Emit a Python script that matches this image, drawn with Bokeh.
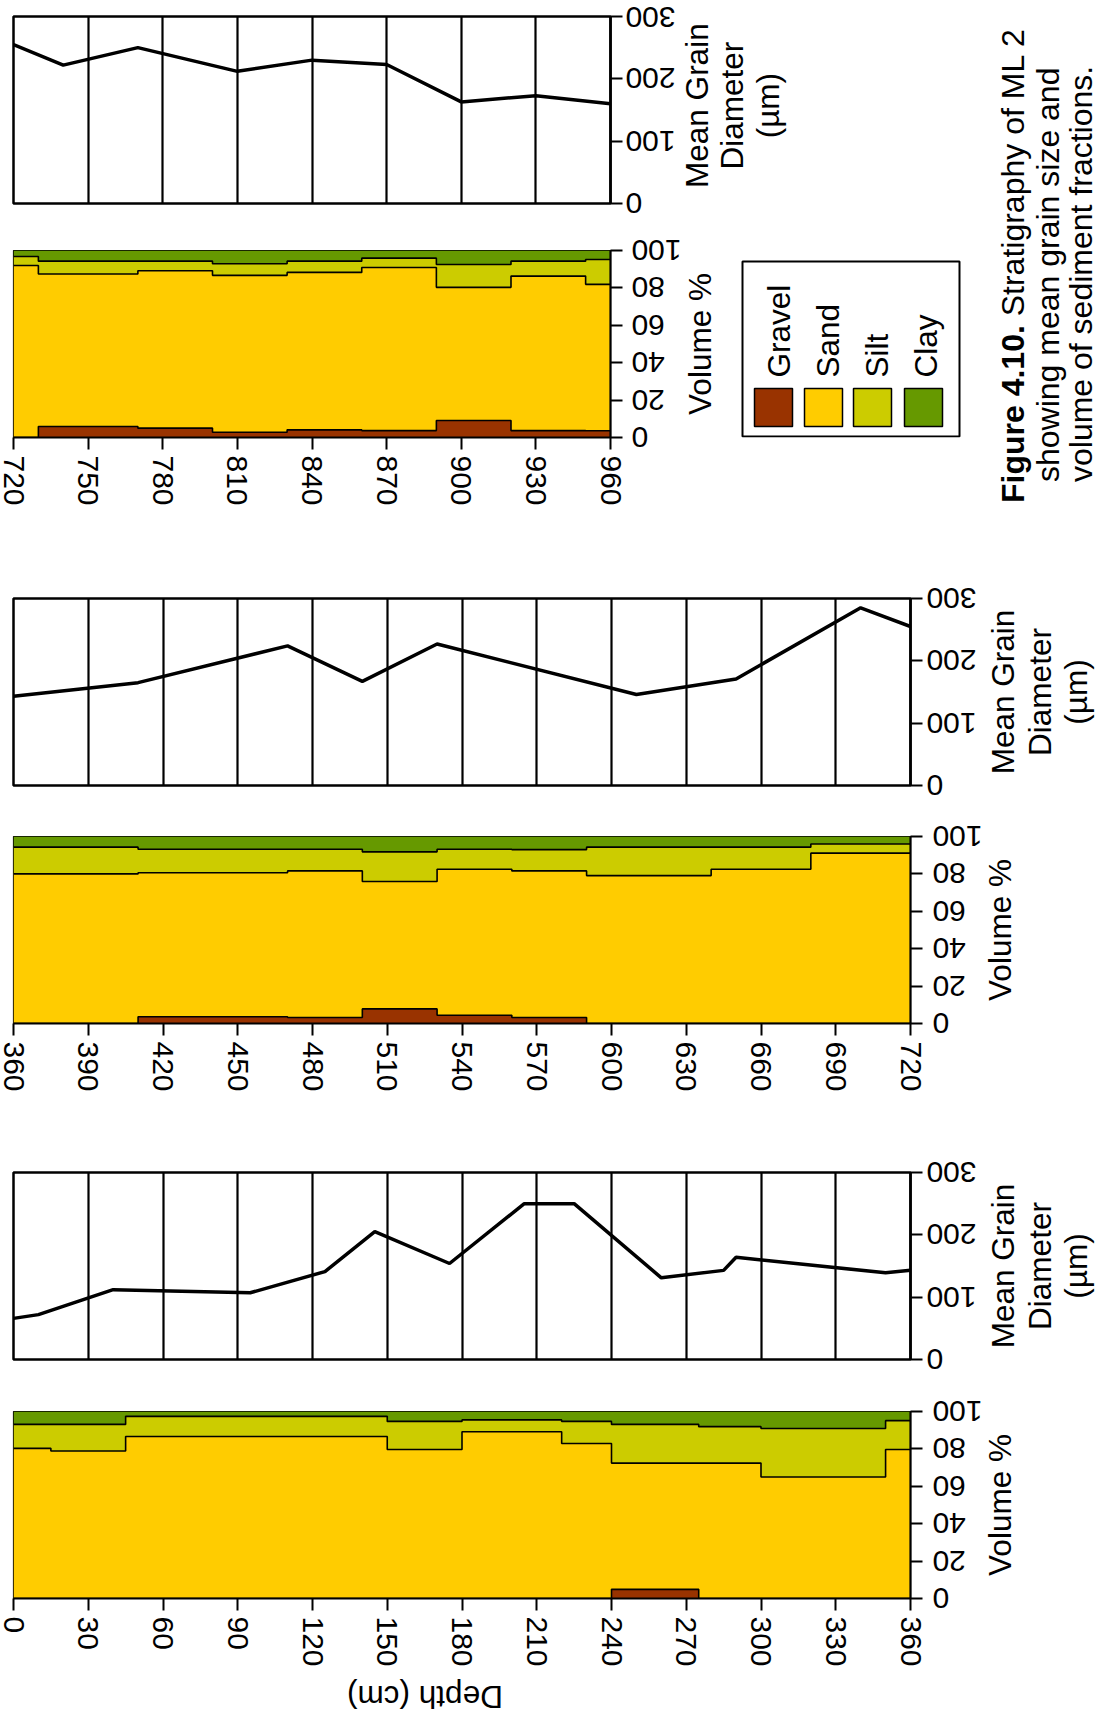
import math
from bokeh.plotting import figure
from bokeh.layouts import column, row
from bokeh.models import Range1d, SingleIntervalTicker, FixedTicker, Grid, Div
from bokeh.core.properties import value
from bokeh.embed import file_html
from bokeh.resources import INLINE

# ---------------- data ----------------
sample_top = [0, 15, 45, 150, 180, 220, 240, 275, 300, 350,
              360, 410, 470, 500, 530, 560, 590, 640, 680,
              720, 730, 770, 800, 830, 860, 890, 920, 950]
sample_base = [15, 45, 150, 180, 220, 240, 275, 300, 350, 360,
               410, 470, 500, 530, 560, 590, 640, 680, 720,
               730, 770, 800, 830, 860, 890, 920, 950, 960]
gravel = [0, 0, 0, 0, 0, 0, 4.9, 0, 0, 0,
          0, 3.6, 3.2, 7.8, 4.4, 3.2, 0, 0, 0,
          0, 5.9, 5.0, 2.8, 4.1, 3.7, 9.1, 3.7, 3.6]
sand = [80.3, 78.9, 86.6, 79.7, 89.2, 82.9, 67.5, 72.4, 65.0, 79.7,
        80.0, 77.0, 78.4, 68.1, 78.1, 78.4, 79.1, 82.5, 91.1,
        92.0, 81.5, 84.2, 83.9, 84.2, 87.2, 71.2, 82.6, 78.3]
silt = [12.8, 14.2, 10.8, 15.0, 6.3, 11.8, 20.7, 19.5, 25.9, 15.4,
        14.3, 12.6, 11.6, 15.9, 10.7, 11.4, 15.2, 11.8, 4.9,
        4.8, 6.9, 5.1, 6.2, 6.0, 5.0, 12.2, 8.0, 13.3]
clay = [6.9, 6.9, 2.6, 5.3, 4.5, 5.3, 6.9, 8.1, 9.1, 4.9,
        5.7, 6.8, 6.8, 8.2, 6.8, 7.0, 5.7, 5.7, 4.0,
        3.2, 5.7, 5.7, 7.1, 5.7, 4.1, 7.5, 5.7, 4.8]

mean_depth = [0, 10, 40, 95, 125, 145, 175, 205, 225, 260, 285, 290, 350, 360,
              410, 470, 500, 530, 610, 650, 700, 720,
              740, 770, 810, 840, 870, 900, 930, 960]
mean_diam = [66, 72, 112, 107, 141, 205, 154, 250, 250, 131, 143, 164, 139, 143,
             165, 224, 167, 227, 146, 171, 285, 255,
             222, 250, 212, 230, 223, 163, 173, 160]

fractions = ["Gravel", "Sand", "Silt", "Clay"]
fraction_colors = ["#993300", "#FFCC00", "#CCCC00", "#669900"]

mean_ticks = [0, 100, 200, 300]
volume_ticks = [0, 20, 40, 60, 80, 100]
mean_title = ["Mean Grain", "Diameter", "(µm)"]
volume_title = "Volume %"
depth_title = "Depth (cm)"
caption_bold = "Figure 4.10."
caption_line1 = "Stratigraphy of ML 2"
caption_lines = ["showing mean grain size and", "volume of sediment fractions."]

# ---------------- styling / layout ----------------
FONT = "Liberation Sans"
TICK_PX = 30
TICK_SIZE = "%dpx" % TICK_PX
TITLE_SIZE = "31.5px"
FRAME_H = 187
LEFT_B = 13
RIGHT_B = 130           # room reserved by the value axis (upside-down labels)
TICK_OUT = 12
TOTAL_W = 1098
LABEL_W = 3 * 0.556 * TICK_PX   # width of a three-digit label


def style_axis(ax):
    ax.major_label_text_font = FONT
    ax.major_label_text_font_size = TICK_SIZE
    ax.major_label_text_color = "black"
    ax.major_tick_out = TICK_OUT
    ax.major_tick_in = 0
    ax.major_tick_line_color = "black"
    ax.major_tick_line_width = 2
    ax.minor_tick_line_color = None
    ax.axis_line_color = "black"
    ax.axis_line_width = 2.2


def value_axis(ax, ticks, gap):
    # upside-down labels whose (visual) left edges sit `gap` px right of the axis
    style_axis(ax)
    ax.ticker = FixedTicker(ticks=ticks)
    ax.major_label_orientation = math.pi
    ax.major_label_overrides = {t: "\u00a0" * (2 * (3 - len(str(t)))) + str(t) for t in ticks}
    ax.major_label_standoff = int(round(gap + LABEL_W - TICK_OUT))


def mean_fig(d0, d1, frame_w, tb, bb, gap):
    p = figure(width=LEFT_B + frame_w + RIGHT_B, height=tb + FRAME_H + bb,
               x_range=Range1d(d0, d1), y_range=Range1d(0, 300),
               output_backend="svg", toolbar_location=None,
               x_axis_location=None, y_axis_location="right",
               min_border_left=LEFT_B, min_border_right=RIGHT_B,
               min_border_top=tb, min_border_bottom=bb)
    p.outline_line_color = "black"
    p.outline_line_width = 2.5
    p.grid.visible = False
    p.add_layout(Grid(dimension=0, ticker=SingleIntervalTicker(interval=30, num_minor_ticks=0),
                      grid_line_color="black", grid_line_width=2.2))
    ax = p.yaxis[0]
    value_axis(ax, mean_ticks, gap)
    ax.axis_line_width = 2.5
    xs = [d for d in mean_depth if d0 <= d <= d1]
    ys = [v for d, v in zip(mean_depth, mean_diam) if d0 <= d <= d1]
    p.line(xs, ys, line_color="black", line_width=3.5)
    return p


def volume_fig(d0, d1, frame_w, tb, bb, gap):
    p = figure(width=LEFT_B + frame_w + RIGHT_B, height=tb + FRAME_H + bb,
               x_range=Range1d(d0, d1), y_range=Range1d(0, 100),
               output_backend="svg", toolbar_location=None,
               x_axis_location="below", y_axis_location="right",
               min_border_left=LEFT_B, min_border_right=RIGHT_B,
               min_border_top=tb, min_border_bottom=bb)
    p.outline_line_color = "black"
    p.outline_line_width = 1.2
    p.grid.visible = False
    idx = [i for i in range(len(sample_top)) if sample_top[i] >= d0 and sample_base[i] <= d1]
    tops = [sample_top[i] for i in idx]
    bases = [sample_base[i] for i in idx]
    parts = [[gravel[i] for i in idx], [sand[i] for i in idx],
             [silt[i] for i in idx], [clay[i] for i in idx]]
    lower = [0.0] * len(idx)
    cums = []
    for k, part in enumerate(parts):
        upper = [a + b for a, b in zip(lower, part)]
        if k == 3:
            upper = [100.0] * len(idx)
        px, py = [], []
        for t, b, u in zip(tops, bases, upper):
            px += [t, b]
            py += [u, u]
        for t, b, lo in reversed(list(zip(tops, bases, lower))):
            px += [b, t]
            py += [lo, lo]
        p.patch(px, py, fill_color=fraction_colors[k], line_color=None)
        cums.append(upper)
        lower = upper
    for k in range(3):
        xs = tops + [bases[-1]]
        ys = cums[k] + [cums[k][-1]]
        p.step(xs, ys, mode="after", line_color="black", line_width=1.6)
    xa = p.xaxis[0]
    xa.ticker = SingleIntervalTicker(interval=30, num_minor_ticks=0)
    style_axis(xa)
    xa.major_label_orientation = "vertical"
    xa.major_label_standoff = 6
    value_axis(p.yaxis[0], volume_ticks, gap)
    return p


def side_fig(x0, x1, tb, bb, vmax, overlap):
    # same top/bottom borders as its panel; it slides left over the panel's empty margin
    p = figure(width=x1 - x0, height=tb + FRAME_H + bb,
               x_range=Range1d(x0, x1), y_range=Range1d(0, vmax),
               output_backend="svg", toolbar_location=None,
               min_border_left=0, min_border_right=0,
               min_border_top=tb, min_border_bottom=bb,
               x_axis_location=None, y_axis_location=None,
               styles={"margin-left": "-%dpx" % overlap})
    p.outline_line_color = None
    p.grid.visible = False
    return p


def put_text(p, xs, ys, texts, align="center", size=TITLE_SIZE):
    p.text(x=list(xs), y=list(ys), text=list(texts), angle=math.pi / 2,
           text_font=value(FONT), text_font_size=value(size),
           text_align=align, text_baseline="middle", text_color="black")


def rot_div(width, height, inner_h, items, size):
    parts = []
    for left, top, rot, html in items:
        parts.append('<div style="position:absolute;left:%.1fpx;top:%.1fpx;transform-origin:0 0;'
                     'transform:%s;white-space:nowrap;line-height:32px;">%s</div>'
                     % (left, top, rot, html))
    inner = ('<div style="position:relative;width:%dpx;height:%dpx;font-family:\'Liberation Sans\';'
             'font-size:%s;color:#000;">%s</div>' % (width, inner_h, size, "".join(parts)))
    return Div(text=inner, width=width, height=height, margin=(0, 0, 0, 0))


# ---------------- row 1 (720-960) ----------------
R1_FRAME_W = 597
R1_SIDE_X0 = 680
m1_tb, m1_bb = 16, 23
v1_tb, v1_bb = 24, 123
cap_x0 = 985
r1_overlap = LEFT_B + R1_FRAME_W + RIGHT_B - R1_SIDE_X0

m1 = mean_fig(720, 960, R1_FRAME_W, m1_tb, m1_bb, 15)
v1 = volume_fig(720, 960, R1_FRAME_W, v1_tb, v1_bb, 21)

s1m = side_fig(R1_SIDE_X0, cap_x0, m1_tb, m1_bb, 300, r1_overlap)
put_text(s1m, [696, 731.5, 767], [157] * 3, mean_title)

s1v = side_fig(R1_SIDE_X0, cap_x0, v1_tb, v1_bb, 100, r1_overlap)
put_text(s1v, [699], [50], [volume_title])

v1_frame_bottom = m1_tb + FRAME_H + m1_bb + v1_tb + FRAME_H


def v1_val(y_page):
    return 100.0 * (v1_frame_bottom - y_page) / FRAME_H


# legend
s1v.quad(left=[742], right=[959], top=[v1_val(261)], bottom=[v1_val(436)],
         fill_color=None, line_color="black", line_width=2)
sw_left = [754, 804, 853, 904]
s1v.quad(left=sw_left, right=[x + 38 for x in sw_left],
         top=[v1_val(388)] * 4, bottom=[v1_val(426)] * 4,
         fill_color=fraction_colors, line_color="black", line_width=1.5)
put_text(s1v, [778, 827.5, 876, 925], [v1_val(377)] * 4, fractions, align="left")

row1_h = m1_tb + FRAME_H + m1_bb + v1_tb + FRAME_H + v1_bb
ccx = 15.6  # offset from the rotated line box edge to the middle of the capitals
cap = rot_div(TOTAL_W - cap_x0, row1_h, 520, [
    (1013 - ccx - cap_x0, 503, "rotate(-90deg)", "<b>%s</b> %s" % (caption_bold, caption_line1)),
    (1047.5 - ccx - cap_x0, 482, "rotate(-90deg)", caption_lines[0]),
    (1080.5 - ccx - cap_x0, 482, "rotate(-90deg)", caption_lines[1]),
], "32px")

# ---------------- rows 2 and 3 ----------------
R_FRAME_W = 897
R_SIDE_X0 = 981
r_overlap = LEFT_B + R_FRAME_W + RIGHT_B - R_SIDE_X0


def panel_rows(d0, d1, m_tb, m_bb, v_tb, v_bb):
    m = mean_fig(d0, d1, R_FRAME_W, m_tb, m_bb, 16)
    v = volume_fig(d0, d1, R_FRAME_W, v_tb, v_bb, 22)
    sm = side_fig(R_SIDE_X0, TOTAL_W, m_tb, m_bb, 300, r_overlap)
    put_text(sm, [1002.5, 1039, 1075.5], [150] * 3, mean_title)
    sv = side_fig(R_SIDE_X0, TOTAL_W, v_tb, v_bb, 100, r_overlap)
    put_text(sv, [999], [50], [volume_title])
    return m, v, sm, sv


m2, v2, s2m, s2v = panel_rows(360, 720, 38, 25, 26, 117)
m3, v3, s3m, s3v = panel_rows(0, 360, 32, 26, 26, 77)

# depth axis title (upside down), page y 1675..1717
depth_div = Div(
    text=('<div style="position:relative;width:%dpx;height:30px;font-family:\'Liberation Sans\';'
          'font-size:31.5px;color:#000;">'
          '<div style="position:absolute;left:425px;top:22px;white-space:nowrap;line-height:32px;'
          'transform:translate(-50%%,-50%%) rotate(180deg);">%s</div></div>' % (R_SIDE_X0, depth_title)),
    width=R_SIDE_X0, height=42, margin=(0, 0, 0, 0))

layout = column(
    row(column(row(m1, s1m), row(v1, s1v)), cap),
    row(m2, s2m), row(v2, s2v),
    row(m3, s3m), row(v3, s3v),
    depth_div,
)

open("out.html", "w").write(file_html(layout, INLINE))
